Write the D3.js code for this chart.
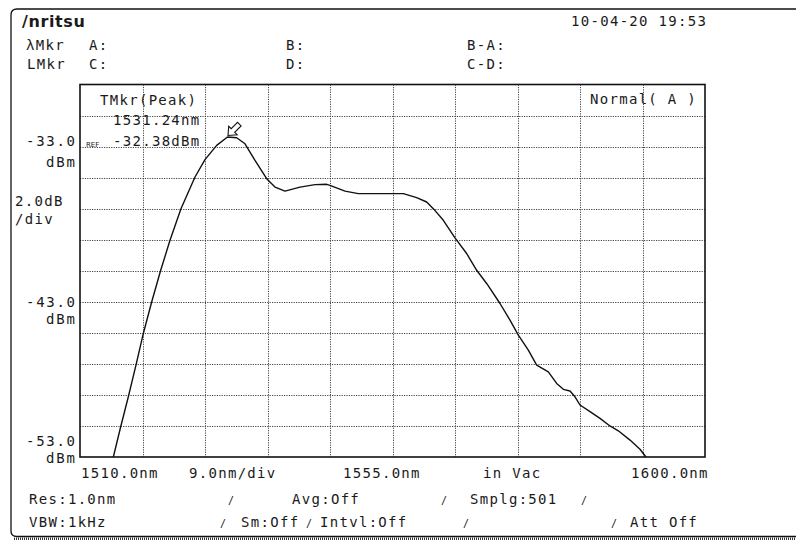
<!DOCTYPE html>
<html>
<head>
<meta charset="utf-8">
<script src="https://cdn.jsdelivr.net/npm/d3@7"></script>
<style>
  html, body { margin: 0; padding: 0; background: #fff; }
  svg { display: block; }
  text { font-family: "DejaVu Sans Mono", "Liberation Mono", monospace; font-size: 14px; letter-spacing: 1.3px; fill: #1a1a1a; }
</style>
</head>
<body>
<svg id="chart" width="796" height="540"></svg>
<script>
// Spectrum trace (wavelength in nm, power in dBm)
const wavelength = [
  1514.80, 1515.86, 1516.96, 1518.06, 1519.12, 1520.32, 1521.62, 1522.96, 1524.54, 1526.56,
  1528.00, 1529.68, 1531.24, 1532.56, 1533.76, 1535.20, 1536.88, 1538.08, 1539.52, 1541.68,
  1543.84, 1545.52, 1546.00, 1548.16, 1550.08, 1556.56, 1558.48, 1559.92, 1560.88, 1562.32,
  1564.00, 1565.68, 1567.12, 1568.56, 1570.48, 1571.92, 1573.12, 1574.56, 1575.76, 1577.44,
  1578.64, 1579.60, 1580.56, 1581.28, 1582.00, 1583.44, 1584.88, 1586.32, 1587.52, 1589.20,
  1590.64, 1591.50
];
const power = [
  -53.00, -51.05, -49.12, -47.08, -45.04, -43.01, -40.97, -39.04, -37.00, -34.96,
  -33.84, -32.92, -32.38, -32.43, -32.82, -33.89, -35.07, -35.61, -35.87, -35.61,
  -35.45, -35.43, -35.50, -35.87, -36.03, -36.03, -36.29, -36.57, -37.00, -37.75,
  -38.88, -39.89, -40.97, -41.82, -43.11, -44.18, -45.15, -46.11, -47.08, -47.51,
  -48.26, -48.64, -48.75, -49.12, -49.65, -50.08, -50.51, -51.00, -51.31, -51.91,
  -52.50, -53.00
];

// Display scale settings
const startWl = 1510.0, stopWl = 1600.0, nmPerDiv = 9.0;
const refLevel = -33.0, dbPerDiv = 2.0;
const xDivs = 10, yDivs = 12;
const topLevel = refLevel + 2 * dbPerDiv;              // REF sits two divisions below top
const bottomLevel = topLevel - yDivs * dbPerDiv;

// Peak marker
const peakWl = 1531.24, peakDbm = -32.38;

// Labels
const yTickValues = [-33.0, -43.0, -53.0];
const yTickLabels = ["-33.0", "-43.0", "-53.0"];
const xTickLabels = ["1510.0nm", "9.0nm/div", "1555.0nm", "in Vac", "1600.0nm"];
const headerDate = "10-04-20 19:53";

const svg = d3.select("#chart");
const plot = { left: 80, top: 84.5, right: 705, bottom: 457 };

const x = d3.scaleLinear().domain([startWl, stopWl]).range([plot.left, plot.right]);
const y = d3.scaleLinear().domain([bottomLevel, topLevel]).range([plot.bottom, plot.top]);

// Outer instrument frame
const frame = d3.path();
frame.moveTo(796, 9);
frame.lineTo(17, 9);
frame.quadraticCurveTo(11, 9, 11, 15);
frame.lineTo(11, 531);
frame.quadraticCurveTo(11, 536.5, 17, 536.5);
frame.lineTo(796, 536.5);
svg.append("path").attr("d", frame.toString())
  .attr("fill", "none").attr("stroke", "#111").attr("stroke-width", 1.3);
svg.append("line").attr("x1", 14).attr("x2", 796).attr("y1", 538.8).attr("y2", 538.8)
  .attr("stroke", "#333").attr("stroke-width", 2.5).attr("stroke-dasharray", "1,1");

// Grid
const grid = svg.append("g").attr("stroke", "#444").attr("stroke-width", 1)
  .attr("stroke-dasharray", "1.2,1.2");
const xGrid = d3.range(1, xDivs).map(i => startWl + i * nmPerDiv);
const yGrid = d3.range(1, yDivs).map(i => bottomLevel + i * dbPerDiv);
grid.selectAll("line.v").data(xGrid).join("line").attr("class", "v")
  .attr("x1", d => Math.round(x(d)) + 0.5).attr("x2", d => Math.round(x(d)) + 0.5)
  .attr("y1", plot.top).attr("y2", plot.bottom);
grid.selectAll("line.h").data(yGrid).join("line").attr("class", "h")
  .attr("x1", plot.left).attr("x2", plot.right)
  .attr("y1", d => Math.round(y(d)) + 0.5).attr("y2", d => Math.round(y(d)) + 0.5);

// Plot border
svg.append("rect").attr("x", plot.left).attr("y", plot.top)
  .attr("width", plot.right - plot.left).attr("height", plot.bottom - plot.top)
  .attr("fill", "none").attr("stroke", "#111").attr("stroke-width", 1.6);

// Trace
svg.append("clipPath").attr("id", "plotClip").append("rect")
  .attr("x", plot.left).attr("y", plot.top)
  .attr("width", plot.right - plot.left).attr("height", plot.bottom - plot.top + 1);
const line = d3.line().x((d, i) => x(wavelength[i])).y(d => y(d)).curve(d3.curveLinear);
svg.append("path").datum(power).attr("d", line).attr("clip-path", "url(#plotClip)")
  .attr("fill", "none").attr("stroke", "#111").attr("stroke-width", 1.4)
  .attr("stroke-linejoin", "round");

// Peak marker arrow (hollow, pointing down-left at the peak)
const tipX = x(peakWl) + 0.5, tipY = y(peakDbm) - 1.5;
svg.append("path")
  .attr("d", "M0,0 L7,-6 L7,-2.5 L16,-2.5 L16,2.5 L7,2.5 L7,6 Z")
  .attr("transform", `translate(${tipX},${tipY}) rotate(-45)`)
  .attr("fill", "#fff").attr("stroke", "#111").attr("stroke-width", 1.1);

// Header
svg.append("text").attr("x", 22).attr("y", 27)
  .style("font-family", "'DejaVu Sans', sans-serif").style("font-weight", "bold")
  .style("font-size", "16px").style("letter-spacing", "0.6px")
  .text("/nritsu");
svg.append("text").attr("x", 571).attr("y", 26).text(headerDate);
const hdr = [
  ["λMkr", 26, 50], ["A:", 89, 50], ["B:", 286, 50], ["B-A:", 467, 50],
  ["LMkr", 27, 69], ["C:", 89, 69], ["D:", 286, 69], ["C-D:", 467, 69]
];
svg.selectAll("text.hdr").data(hdr).join("text").attr("class", "hdr")
  .attr("x", d => d[1]).attr("y", d => d[2]).text(d => d[0]);

// Y axis labels: value line, then the unit below it
const yLabelOffset = [-0.7, 5.5, -11];
const unitOffset = [21.5, 17, 17];
yTickValues.forEach((v, i) => {
  const base = y(v) + yLabelOffset[i];
  svg.append("text").attr("x", 75).attr("y", base)
    .attr("text-anchor", "end").style("letter-spacing", "0").attr("textLength", 49)
    .text(yTickLabels[i]);
  svg.append("text").attr("x", 75).attr("y", base + unitOffset[i])
    .attr("text-anchor", "end").style("letter-spacing", "0").attr("textLength", 29)
    .text("dBm");
});
svg.append("text").attr("x", 15).attr("y", 206).text(dbPerDiv.toFixed(1) + "dB");
svg.append("text").attr("x", 15).attr("y", 224).text("/div");

// X axis labels
const xLabelPos = [81, 189, 343, 483, 631];
xTickLabels.forEach((t, i) => {
  svg.append("text").attr("x", xLabelPos[i]).attr("y", 478).text(t);
});

// Marker readout inside the plot
svg.append("text").attr("x", 100).attr("y", 105).text("TMkr(Peak)");
svg.append("text").attr("x", 113).attr("y", 125).text(peakWl.toFixed(2) + "nm");
svg.append("text").attr("x", 113).attr("y", 145.5).text(peakDbm.toFixed(2) + "dBm");
svg.append("text").attr("x", 86).attr("y", 147).style("font-size", "7px")
  .style("letter-spacing", "0").style("font-family", "'DejaVu Sans', sans-serif").text("REF");
svg.append("text").attr("x", 590).attr("y", 104).text("Normal( A )");

// Status lines
const status = [
  ["Res:1.0nm", 29, 504], ["/", 228, 504], ["Avg:Off", 292, 504], ["/", 441, 504],
  ["Smplg:501", 470, 504], ["/", 581, 504],
  ["VBW:1kHz", 29, 527], ["/", 220, 527], ["Sm:Off", 241, 527], ["/", 306, 527],
  ["Intvl:Off", 320, 527], ["/", 463, 527], ["/", 611, 527], ["Att Off", 630, 527]
];
svg.selectAll("text.status").data(status).join("text").attr("class", "status")
  .attr("x", d => d[1]).attr("y", d => d[2])
  .style("font-size", d => d[0] === "/" ? "10px" : null)
  .text(d => d[0]);
</script>
</body>
</html>
